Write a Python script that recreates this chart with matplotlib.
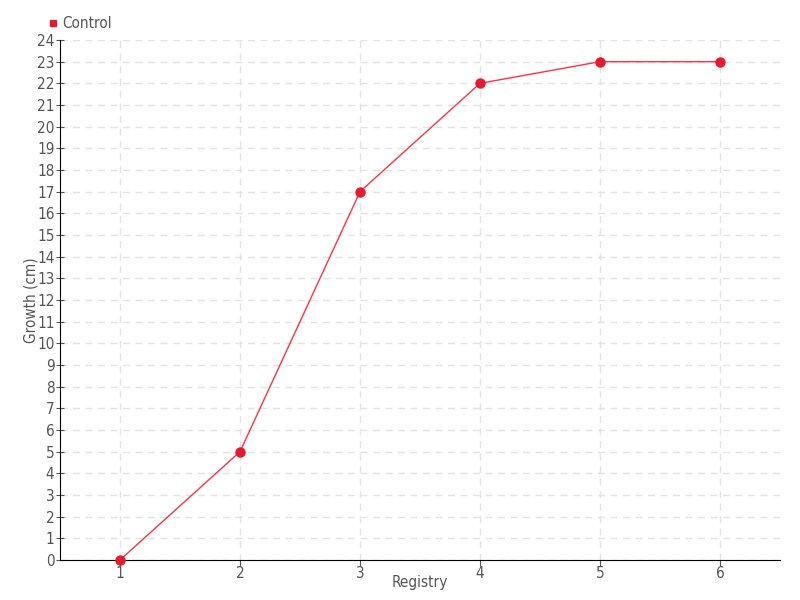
import matplotlib
matplotlib.use("Agg")
import matplotlib.pyplot as plt
from matplotlib.lines import Line2D

plt.rcParams['font.family'] = ['DejaVu Sans']
plt.rcParams['font.stretch'] = 'condensed'

# data
registry = [1, 2, 3, 4, 5, 6]
growth = [0, 5, 17, 22, 23, 23]
series_name = 'Control'

fig = plt.figure(figsize=(8, 6), dpi=100)
ax = fig.add_axes([60/800, 40/600, 720/800, 520/600])

ax.plot(registry, growth, color='#ff3344', lw=1, marker='o', ms=6.5,
        mfc='#e8192c', mec='#e8192c', zorder=3, clip_on=False)

ax.set_xlim(0.5, 6.5)
ax.set_ylim(0, 24)
ax.set_xticks(registry)
ax.set_yticks(range(0, 25))
ax.grid(True, color='#e3e3e3', ls=(0, (5, 4)), lw=1)
ax.set_axisbelow(True)

for s in ['top', 'right']:
    ax.spines[s].set_visible(False)
ax.spines['left'].set_color('black')
ax.spines['bottom'].set_color('black')
ax.tick_params(axis='y', direction='inout', length=6, labelsize=11, colors='#555555', pad=1)
ax.tick_params(axis='x', direction='out', length=4, labelsize=11, colors='#555555', pad=0)
for t in ax.get_xticklines() + ax.get_yticklines():
    t.set_color('black')

ax.set_xlabel('Registry', fontsize=11, color='#555555', labelpad=-4)
ax.set_ylabel('Growth (cm)', fontsize=11, color='#555555', labelpad=-1)

handle = Line2D([], [], ls='none', marker='s', ms=5, color='#e8192c')
fig.legend([handle], [series_name], loc='upper left', bbox_to_anchor=(42/800, 1 - 10/600),
           frameon=False, fontsize=11, handlelength=0.6, handletextpad=0.3,
           labelcolor='#555555', borderaxespad=0)

fig.savefig('out.png', dpi=100)
